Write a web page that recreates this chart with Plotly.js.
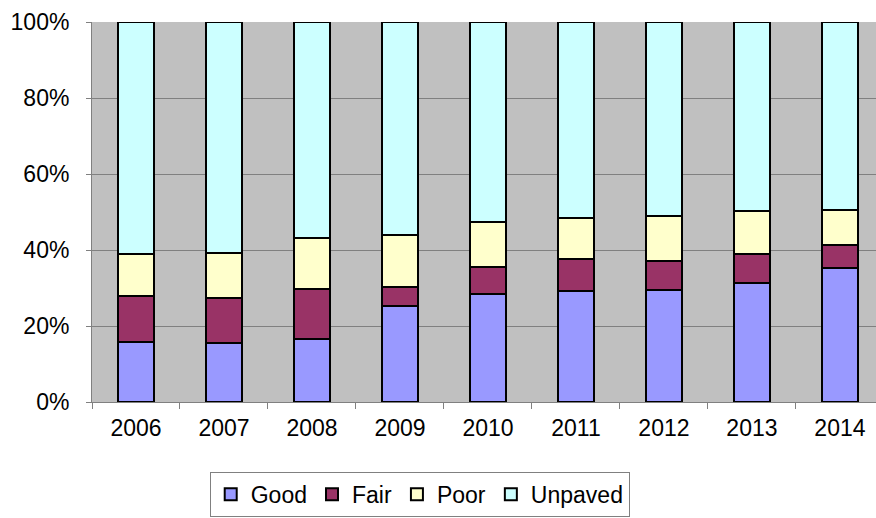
<!DOCTYPE html>
<html>
<head>
<meta charset="utf-8">
<script src="https://cdn.plot.ly/plotly-3.0.1.min.js"></script>
<style>
  html, body { margin: 0; padding: 0; background: #ffffff; }
  #chart { width: 876px; height: 518px; }
</style>
</head>
<body>
<div id="chart"></div>
<script>
const years = ['2006', '2007', '2008', '2009', '2010', '2011', '2012', '2013', '2014'];
const good    = [15.8, 15.4, 16.7, 25.2, 28.3, 29.1, 29.6, 31.3, 35.2];
const fair    = [12.2, 12.1, 13.1, 5.1, 7.1, 8.6, 7.4, 7.7, 6.2];
const poor    = [10.9, 11.6, 13.4, 13.7, 12.0, 10.7, 12.0, 11.3, 9.0];
const unpaved = [61.1, 60.9, 56.8, 56.0, 52.6, 51.6, 51.0, 49.7, 49.6];
const yTicks = [0, 20, 40, 60, 80, 100];
const yTickText = ['0%', '20%', '40%', '60%', '80%', '100%'];

function makeBar(name, values, color) {
    return {
        x: years,
        y: values,
        name: name,
        type: 'bar',
        marker: { color: color, line: { color: '#000000', width: 2 } },
        hoverinfo: 'x+y+name'
    };
}

const data = [
    makeBar('Good', good, '#9999ff'),
    makeBar('Fair', fair, '#993366'),
    makeBar('Poor', poor, '#ffffcc'),
    makeBar('Unpaved', unpaved, '#ccffff')
];

const layout = {
    width: 876,
    height: 518,
    barmode: 'stack',
    bargap: 0.6,
    margin: { l: 92, r: 0, t: 22, b: 116 },
    paper_bgcolor: '#ffffff',
    plot_bgcolor: '#c0c0c0',
    font: { family: 'Liberation Sans, Arial, sans-serif', size: 23, color: '#000000' },
    showlegend: true,
    legend: {
        orientation: 'h',
        x: 0.418,
        xanchor: 'center',
        y: -0.184,
        yanchor: 'top',
        bgcolor: '#ffffff',
        bordercolor: '#808080',
        borderwidth: 1,
        traceorder: 'normal',
        font: { size: 23 }
    },
    xaxis: {
        type: 'category',
        range: [-0.5, 8.41],
        showgrid: false,
        showline: true,
        linecolor: '#808080',
        linewidth: 1,
        ticks: 'outside',
        tickson: 'boundaries',
        ticklen: 6,
        tickcolor: '#808080',
        ticklabelstandoff: 5
    },
    yaxis: {
        range: [0, 100],
        tickvals: yTicks,
        ticktext: yTickText,
        showgrid: true,
        gridcolor: '#808080',
        gridwidth: 1,
        showline: true,
        linecolor: '#808080',
        linewidth: 1,
        ticks: 'outside',
        ticklen: 5,
        tickcolor: '#808080',
        ticklabelstandoff: 12,
        zeroline: false
    }
};

Plotly.newPlot('chart', data, layout, { displayModeBar: false, staticPlot: true });
</script>
</body>
</html>
